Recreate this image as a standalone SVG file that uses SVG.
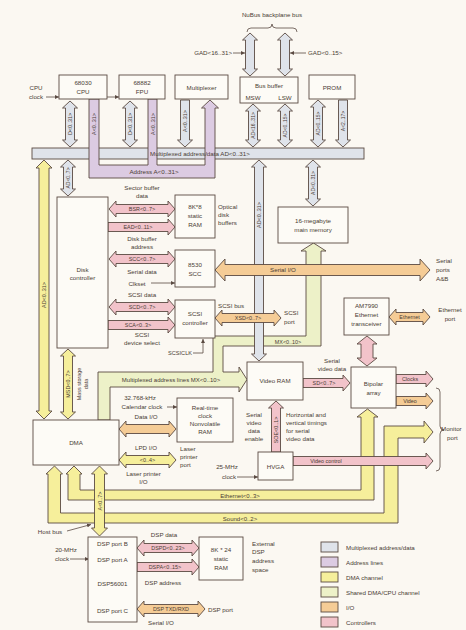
<svg xmlns="http://www.w3.org/2000/svg" width="466" height="630" viewBox="0 0 466 630">
<defs>
<style>
.l{stroke:#5a4a42;stroke-width:0.9;stroke-linejoin:miter}
.bx{fill:#fdfbf6;stroke:#5a4a42;stroke-width:0.9}
.mx{fill:#dfe3ea}
.ad{fill:#dccbe2}
.dm{fill:#f6ef9b}
.sh{fill:#edf1c8}
.io{fill:#f5cc96}
.ct{fill:#f2c3ca}
.w{fill:none;stroke:#5a4a42;stroke-width:0.8}
text{font-family:"Liberation Sans",Arial,sans-serif;fill:#4a3c34;font-size:6.2px}
.s{font-size:5.4px}
.m{text-anchor:middle}
.e{text-anchor:end}
</style>
<marker id="a" viewBox="0 0 6 6" refX="6" refY="3" markerWidth="5" markerHeight="5" orient="auto"><path d="M0 0L6 3L0 6z" fill="#5a4a42"/></marker>
</defs>
<rect width="466" height="630" fill="#fbf8f2"/>

<g id="connectors">
<rect class="l mx" x="32" y="148" width="332" height="11"/>
<path class="l ad" d="M89 99H99V165H148V99H157V165H205V108h-3.5l8.5-8l8.5 8h-3.5V178H89z"/>
<text x="200" y="156.3" class="m">Multiplexed address/data AD&lt;0..31&gt;</text>
<text x="154" y="174" class="m">Address A&lt;0..31&gt;</text>
<text class="s m" transform="translate(94,124) rotate(-90)" dy="2">A&lt;0..31&gt;</text>
<text class="s m" transform="translate(152.5,124) rotate(-90)" dy="2">A&lt;0..31&gt;</text>

<path class="w" d="M247 32q0-4 4-4H268q4 0 4-4q0 4 4 4H293q4 0 4 4"/>
<path class="l mx" d="M250 33l7.5 7h-3V69h3l-7.5 7l-7.5-7h3V40h-3z"/>
<path class="l mx" d="M285 33l7.5 7h-3V69h3l-7.5 7l-7.5-7h3V40h-3z"/>
<path class="w" d="M233 53H245" marker-end="url(#a)"/>
<path class="w" d="M306 53H290" marker-end="url(#a)"/>

<path class="l mx" d="M70 101l7.5 7h-3V140h3l-7.5 7l-7.5-7h3V108h-3z"/>
<path class="l mx" d="M130 101l7.5 7h-3V140h3l-7.5 7l-7.5-7h3V108h-3z"/>
<path class="l mx" d="M180.5 100h9V140h3l-7.5 7l-7.5-7h3z"/>
<path class="l mx" d="M253 104l7.5 7h-3V140h3l-7.5 7l-7.5-7h3V111h-3z"/>
<path class="l mx" d="M285 104l7.5 7h-3V140h3l-7.5 7l-7.5-7h3V111h-3z"/>
<path class="l mx" d="M318 100l7.5 7h-3V140h3l-7.5 7l-7.5-7h3V107h-3z"/>
<path class="l mx" d="M338.5 100h9V140h3l-7.5 7l-7.5-7h3z"/>
<text class="s m" transform="translate(70,124) rotate(-90)" dy="2">D&lt;0..31&gt;</text>
<text class="s m" transform="translate(130,124) rotate(-90)" dy="2">D&lt;0..31&gt;</text>
<text class="s m" transform="translate(185,121) rotate(-90)" dy="2">A&lt;0..31&gt;</text>
<text class="s m" transform="translate(253,125.5) rotate(-90)" dy="2" style="font-size:5px">AD&lt;16..31&gt;</text>
<text class="s m" transform="translate(285,125.5) rotate(-90)" dy="2" style="font-size:5px">AD&lt;0..15&gt;</text>
<text class="s m" transform="translate(318,123.5) rotate(-90)" dy="2" style="font-size:5px">AD&lt;0..15&gt;</text>
<text class="s m" transform="translate(343,121) rotate(-90)" dy="2" style="font-size:5px">A&lt;2..17&gt;</text>

<path class="l sh" d="M98 420V372H213V336H306V251h-5l12.5-8l12.5 8h-5V346H223V372H239v-5l8 12.5l-8 12.5v-5H110V420z"/>
<text x="171" y="382" class="m" style="font-size:6px">Multiplexed address lines MX&lt;0..10&gt;</text>
<text x="288" y="343.5" class="s m">MX&lt;0..10&gt;</text>

<path class="l dm" d="M54.5 466l8 8h-2V513H384V426H424v-5l9 11l-9 11v-5H398V523H48V474h-2z"/>
<path class="l dm" d="M74 466l8 8h-2V490H361V417h-4l10.5-8l10.5 8h-4V500H68V474h-2z"/>
<text x="240" y="497.5" class="m" style="font-size:6px">Ethernet&lt;0..3&gt;</text>
<text x="240" y="520.5" class="m" style="font-size:6px">Sound&lt;0..2&gt;</text>
<path class="l dm" d="M99.5 466l8 8h-3V528h3l-8 8l-8-8h3V474h-3z"/>
<text class="s m" transform="translate(99.5,501) rotate(-90)" dy="2">A&lt;0..7&gt;</text>
<path class="w" d="M67 531L91 524.5" marker-end="url(#a)"/>

<path class="l dm" d="M44 160l8 8h-3V411h3l-8 8l-8-8h3V168h-3z"/>
<text class="s m" transform="translate(44,295) rotate(-90)" dy="2">AD&lt;0..31&gt;</text>
<path class="l mx" d="M68 160l7.5 7h-3V189h3l-7.5 7l-7.5-7h3V167h-3z"/>
<text class="s m" transform="translate(68,178) rotate(-90)" dy="2" style="font-size:5px">AD&lt;0..7&gt;</text>
<path class="l dm" d="M68 349l7.5 7h-3V412h3l-7.5 7l-7.5-7h3V356h-3z"/>
<text class="s m" transform="translate(68,384) rotate(-90)" dy="2">MSD&lt;0..7&gt;</text>
<text class="s m" transform="translate(81,384) rotate(-90)">Mass storage</text>
<text class="s m" transform="translate(88,384) rotate(-90)">data</text>

<path class="l mx" d="M313 160l7.5 7h-3V199h3l-7.5 7l-7.5-7h3V167h-3z"/>
<text class="s m" transform="translate(313,183) rotate(-90)" dy="2" style="font-size:5px">AD&lt;0..31&gt;</text>
<path class="l mx" d="M259 160l7.5 7h-3V354h3l-7.5 7l-7.5-7h3V167h-3z"/>
<text class="s m" transform="translate(259,215) rotate(-90)" dy="2">AD&lt;0..31&gt;</text>

<path class="l ct" d="M109 209l7-8v3.5H168v-3.5l7 8l-7 8v-3.5H116v3.5z"/>
<path class="l ct" d="M108 222.5H168v-3.5l7 8l-7 8v-3.5H108z"/>
<path class="l ct" d="M109 259l7-8v3.5H168v-3.5l7 8l-7 8v-3.5H116v3.5z"/>
<path class="l ct" d="M109 307l7-8v3.5H168v-3.5l7 8l-7 8v-3.5H116v3.5z"/>
<path class="l ct" d="M108 320.5H168v-3.5l7 8l-7 8v-3.5H108z"/>
<text x="142" y="190" class="m">Sector buffer</text>
<text x="142" y="198" class="m">data</text>
<text x="142" y="211" class="s m">BSR&lt;0..7&gt;</text>
<text x="138" y="229" class="s m">EAD&lt;0..11&gt;</text>
<text x="142" y="241" class="m">Disk buffer</text>
<text x="142" y="249" class="m">address</text>
<text x="142" y="261" class="s m">SCC&lt;0..7&gt;</text>
<text x="142" y="274" class="m">Serial data</text>
<text x="137" y="285.5" class="m">Clkset</text>
<path class="w" d="M151 283H175" marker-end="url(#a)"/>
<text x="142" y="297" class="m">SCSI data</text>
<text x="142" y="309" class="s m">SCD&lt;0..7&gt;</text>
<text x="138" y="327" class="s m">SCA&lt;0..3&gt;</text>
<text x="142" y="337" class="m">SCSI</text>
<text x="142" y="345" class="m">device select</text>

<path class="l io" d="M215 270l10-11v5.5H420v-5.5l10 11l-10 11v-5.5H225v5.5z"/>
<text x="283" y="272.3" class="m">Serial I/O</text>
<path class="l io" d="M215 318l7-8v3.5H274v-3.5l7 8l-7 8v-3.5H222v3.5z"/>
<text x="248" y="320" class="s m">XSD&lt;0..7&gt;</text>
<path class="w" d="M193 353H203V339" marker-end="url(#a)"/>

<path class="l io" d="M389 317l7-8v3.5H423v-3.5l7 8l-7 8v-3.5H396v3.5z"/>
<text x="409.5" y="319" class="s m">Ethernet</text>
<path class="l ct" d="M367 336l10 8h-4V358h4l-10 8l-10-8h4V344h-4z"/>
<path class="l ct" d="M396 374.5H426v-3.5l7 8l-7 8v-3.5H396z"/>
<text x="410" y="381" class="s m">Clocks</text>
<path class="l io" d="M396 396.5H426v-3.5l7 8l-7 8v-3.5H396z"/>
<text x="410" y="403" class="s m">Video</text>
<path class="w" d="M436 388q4 0 4 4V426q0 4 4 4q-4 0-4 4V467q0 4-4 4"/>

<path class="l ct" d="M303 378.5H343v-3.5l7 8l-7 8v-3.5H303z"/>
<text x="324" y="385" class="s m">SD&lt;0..7&gt;</text>
<path class="l ct" d="M276 401l7.5 7h-3V452h-9V408h-3z"/>
<text class="s m" transform="translate(276,430) rotate(-90)" dy="2">SOE&lt;0..1&gt;</text>
<path class="l ct" d="M293 456.5H426v-3.5l7 8l-7 8v-3.5H293z"/>
<text x="326" y="463" class="s m">Video control</text>
<path class="w" d="M237 477H258" marker-end="url(#a)"/>

<path class="l io" d="M119 429l7-8v3.5H169v-3.5l7 8l-7 8v-3.5H126v3.5z"/>
<path class="l dm" d="M119 460l7-8v3.5H169v-3.5l7 8l-7 8v-3.5H126v3.5z"/>
<text x="147.5" y="462" class="s m">&lt;0..4&gt;</text>
<path class="w" d="M167 407H177" marker-end="url(#a)"/>

<path class="l ct" d="M137 548l7-8v3.5H192v-3.5l7 8l-7 8v-3.5H144v3.5z"/>
<text x="168" y="550" class="s m">DSPD&lt;0..23&gt;</text>
<path class="l ct" d="M137 562.5H192v-3.5l7 8l-7 8v-3.5H137z"/>
<text x="165" y="569" class="s m">DSPA&lt;0..15&gt;</text>
<path class="l io" d="M137 609l7-8v3.5H198v-3.5l7 8l-7 8v-3.5H144v3.5z"/>
<text x="171" y="611" class="s m">DSP TXD/RXD</text>
<path class="w" d="M70 559H89" marker-end="url(#a)"/>

<path class="w" d="M46 97H59" marker-end="url(#a)"/>
<path class="w" d="M107 97H119" marker-end="url(#a)"/>
</g>

<g id="cpu"><rect class="bx" x="59" y="75" width="48" height="24"/><text x="83" y="85" class="m">68030</text><text x="83" y="94" class="m">CPU</text></g>
<g id="fpu"><rect class="bx" x="119" y="75" width="46" height="24"/><text x="142" y="85" class="m">68882</text><text x="142" y="94" class="m">FPU</text></g>
<g id="multiplexer"><rect class="bx" x="175" y="75" width="53" height="24"/><text x="201.5" y="89.5" class="m">Multiplexer</text></g>
<g id="busbuffer"><rect class="bx" x="240" y="77" width="58" height="26"/><text x="269" y="88" class="m">Bus buffer</text><text x="253" y="100" class="m">MSW</text><text x="285" y="100" class="m">LSW</text></g>
<g id="prom"><rect class="bx" x="309" y="75" width="46" height="24"/><text x="332" y="89.5" class="m">PROM</text></g>
<g id="diskctrl"><rect class="bx" x="57" y="197" width="51" height="151"/><text x="82.5" y="272" class="m">Disk</text><text x="82.5" y="280" class="m">controller</text></g>
<g id="sram8k"><rect class="bx" x="175" y="195" width="40" height="43"/><text x="195" y="209" class="m">8K*8</text><text x="195" y="218" class="m">static</text><text x="195" y="227" class="m">RAM</text></g>
<g id="scc"><rect class="bx" x="175" y="250" width="40" height="37"/><text x="195" y="267" class="m">8530</text><text x="195" y="276" class="m">SCC</text></g>
<g id="scsi"><rect class="bx" x="175" y="300" width="40" height="38"/><text x="195" y="316" class="m">SCSI</text><text x="195" y="325" class="m">controller</text></g>
<g id="mainmem"><rect class="bx" x="278" y="207" width="70" height="36"/><text x="313" y="223" class="m">16-megabyte</text><text x="313" y="232" class="m">main memory</text></g>
<g id="ethernet"><rect class="bx" x="344" y="298" width="45" height="37"/><text x="366.5" y="308" class="m">AM7990</text><text x="366.5" y="317" class="m">Ethernet</text><text x="366.5" y="326" class="m">transceiver</text></g>
<g id="videoram"><rect class="bx" x="247" y="362" width="56" height="38"/><text x="275" y="383" class="m">Video RAM</text></g>
<g id="bipolar"><rect class="bx" x="351" y="367" width="45" height="41"/><text x="373.5" y="386" class="m">Bipolar</text><text x="373.5" y="395" class="m">array</text></g>
<g id="rtc"><rect class="bx" x="177" y="398" width="56" height="44"/><text x="205" y="410" class="m">Real-time</text><text x="205" y="418" class="m">clock</text><text x="205" y="426" class="m">Nonvolatile</text><text x="205" y="434" class="m">RAM</text></g>
<g id="hvga"><rect class="bx" x="258" y="452" width="35" height="28"/><text x="275.5" y="468.5" class="m">HVGA</text></g>
<g id="dma"><rect class="bx" x="33" y="420" width="86" height="45"/><text x="76" y="445" class="m">DMA</text></g>
<g id="dsp"><rect class="bx" x="88" y="537" width="49" height="85"/><text x="112.5" y="546" class="m">DSP port B</text><text x="112.5" y="562" class="m">DSP port A</text><text x="112.5" y="586" class="m">DSP56001</text><text x="112.5" y="613" class="m">DSP port C</text></g>
<g id="dspram"><rect class="bx" x="199" y="537" width="44" height="43"/><text x="221" y="552" class="m">8K * 24</text><text x="221" y="561" class="m">static</text><text x="221" y="570" class="m">RAM</text></g>

<g id="labels">
<text x="272" y="17" class="m">NuBus backplane bus</text>
<text x="232" y="55" class="e">GAD&lt;16..31&gt;</text>
<text x="308" y="55">GAD&lt;0..15&gt;</text>
<text x="36" y="90" class="m">CPU</text>
<text x="36" y="99" class="m">clock</text>
<text x="218" y="209">Optical</text>
<text x="218" y="217">disk</text>
<text x="218" y="225">buffers</text>
<text x="218" y="308">SCSI bus</text>
<text x="284" y="315">SCSI</text>
<text x="284" y="324">port</text>
<text x="192" y="355" class="e" style="font-size:5.6px">SCSICLK</text>
<text x="436" y="263">Serial</text>
<text x="436" y="272">ports</text>
<text x="436" y="281">A&amp;B</text>
<text x="450" y="312" class="m">Ethernet</text>
<text x="450" y="321" class="m">port</text>
<text x="332" y="363" class="m">Serial</text>
<text x="332" y="371" class="m">video data</text>
<text x="441" y="431">Monitor</text>
<text x="447" y="440">port</text>
<text x="254" y="417" class="m">Serial</text>
<text x="254" y="425" class="m">video</text>
<text x="254" y="433" class="m">data</text>
<text x="254" y="441" class="m">enable</text>
<text x="286" y="417">Horizontal and</text>
<text x="286" y="425">vertical timings</text>
<text x="286" y="433">for serial</text>
<text x="286" y="441">video data</text>
<text x="227" y="469" class="m">25-MHz</text>
<text x="229" y="479" class="m">clock</text>
<text x="140" y="400" class="m">32.768-kHz</text>
<text x="142" y="409" class="m">Calendar clock</text>
<text x="146" y="419" class="m">Data I/O</text>
<text x="146" y="450" class="m">LPD I/O</text>
<text x="180" y="451">Laser</text>
<text x="180" y="459">printer</text>
<text x="180" y="467">port</text>
<text x="143.5" y="476" class="m">Laser printer</text>
<text x="143.5" y="484" class="m">I/O</text>
<text x="50" y="534" class="m">Host bus</text>
<text x="66" y="552" class="m">20-MHz</text>
<text x="62" y="561" class="m">clock</text>
<text x="164" y="537" class="m">DSP data</text>
<text x="163" y="585" class="m">DSP address</text>
<text x="252" y="546">External</text>
<text x="252" y="554">DSP</text>
<text x="252" y="563">address</text>
<text x="252" y="572">space</text>
<text x="208" y="612">DSP port</text>
<text x="161" y="625" class="m">Serial I/O</text>
</g>

<g id="legend">
<rect class="l mx" x="321" y="542" width="17" height="10"/><text x="346" y="550">Multiplexed address/data</text>
<rect class="l ad" x="321" y="557" width="17" height="10"/><text x="346" y="565">Address lines</text>
<rect class="l dm" x="321" y="572" width="17" height="10"/><text x="346" y="580">DMA channel</text>
<rect class="l sh" x="321" y="587" width="17" height="10"/><text x="346" y="595">Shared DMA/CPU channel</text>
<rect class="l io" x="321" y="602" width="17" height="10"/><text x="346" y="610">I/O</text>
<rect class="l ct" x="321" y="617" width="17" height="10"/><text x="346" y="625">Controllers</text>
</g>
</svg>
